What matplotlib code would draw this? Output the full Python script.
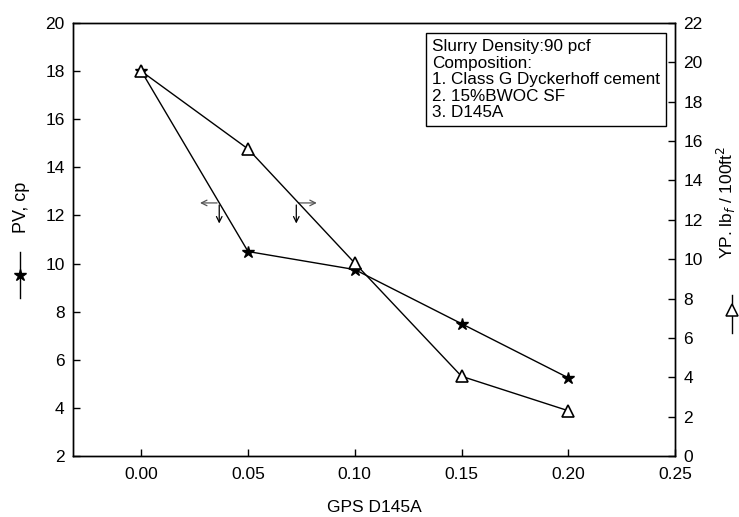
import matplotlib
matplotlib.use("Agg")
import matplotlib.pyplot as plt
from matplotlib.lines import Line2D

plt.rcParams['font.family'] = ['Liberation Sans', 'DejaVu Sans']

x = [0.00, 0.05, 0.10, 0.15, 0.20]
pv = [18.0, 10.5, 9.75, 7.5, 5.25]
yp = [19.55, 15.6, 9.8, 4.05, 2.3]
xticks = [0.00, 0.05, 0.10, 0.15, 0.20, 0.25]
left_ticks = list(range(2, 21, 2))
right_ticks = list(range(0, 23, 2))
box_text = ("Slurry Density:90 pcf\nComposition:\n1. Class G Dyckerhoff cement\n"
            "2. 15%BWOC SF\n3. D145A")

fig = plt.figure(figsize=(7.39, 5.17), dpi=100)
ax = fig.add_axes([73/739, 61/517, (675-73)/739, (456-23)/517])
ax2 = ax.twinx()

ax.plot(x, pv, color='black', lw=1, marker='*', ms=9, mfc='black', mec='black', zorder=3)
ax2.plot(x, yp, color='black', lw=1, marker='^', ms=9, mfc='white', mec='black', mew=1.2, zorder=3)

ax.set_xlim(-0.032, 0.25)
ax.set_ylim(2, 20)
ax2.set_ylim(0, 22)
ax.set_xticks(xticks)
ax.set_xticklabels([f"{v:.2f}" for v in xticks])
ax.set_yticks(left_ticks)
ax2.set_yticks(right_ticks)

for a in (ax, ax2):
    a.tick_params(direction='in', length=5, width=1, labelsize=12.5, color='black')
    for s in a.spines.values():
        s.set_linewidth(1)
ax.tick_params(axis='x', pad=8)
ax.tick_params(axis='y', pad=6)
ax2.tick_params(axis='y', pad=6)

ax.set_xlabel("GPS D145A", fontsize=12.5, labelpad=13)

# left label with legend symbol
fig.text(22/739, 1 - 207/517, "PV, cp", rotation=90, fontsize=13, ha='center', va='center')
fig.add_artist(Line2D([20/739, 20/739], [1 - 252/517, 1 - 298/517], color='black', lw=1,
                      transform=fig.transFigure))
fig.add_artist(Line2D([20/739], [1 - 275/517], marker='*', ms=9, color='black',
                      transform=fig.transFigure))

# right label with legend symbol
fig.text(726/739, 1 - 202/517, r"YP. lb$_f$ / 100ft$^2$", rotation=90, fontsize=12.5,
         ha='center', va='center')
fig.add_artist(Line2D([732/739, 732/739], [1 - 295/517, 1 - 333/517], color='black', lw=1,
                      transform=fig.transFigure))
fig.add_artist(Line2D([732/739], [1 - 310/517], marker='^', ms=8, mfc='white', mec='black',
                      mew=1.1, color='black', transform=fig.transFigure))

# indicator arrows
akw = dict(arrowstyle='->', color='black', lw=0.9)
akwg = dict(arrowstyle='->', color='#555555', lw=0.9)
ax.annotate("", xy=(0.0262, 12.52), xytext=(0.0368, 12.52), arrowprops=akwg)
ax.annotate("", xy=(0.0365, 11.55), xytext=(0.0365, 12.55), arrowprops=akw)
ax.annotate("", xy=(0.0835, 12.52), xytext=(0.0723, 12.52), arrowprops=akwg)
ax.annotate("", xy=(0.0726, 11.55), xytext=(0.0726, 12.55), arrowprops=akw)

# text box
ax.text(0.597, 0.962, box_text, transform=ax.transAxes, fontsize=12.3, va='top', ha='left',
        linespacing=1.12,
        bbox=dict(boxstyle='square,pad=0.35', fc='white', ec='black', lw=1))

fig.savefig("out.png", dpi=100)
